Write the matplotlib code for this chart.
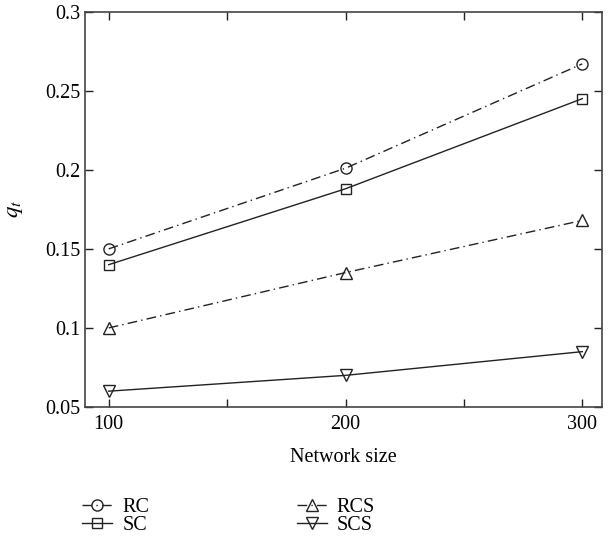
import matplotlib
matplotlib.use("Agg")
import matplotlib.pyplot as plt
from matplotlib.ticker import MultipleLocator

sizes = [100, 200, 300]
rc = [0.150, 0.201, 0.267]
sc = [0.140, 0.188, 0.245]
rcs = [0.100, 0.135, 0.168]
scs = [0.060, 0.070, 0.085]

plt.rcParams['font.family'] = ['Liberation Serif', 'DejaVu Serif']
plt.rcParams['mathtext.fontset'] = 'stix'
fs = 14.5

fig = plt.figure(figsize=(6.13, 5.46), dpi=100)
ax = fig.add_axes([0.1387, 0.2546, 0.9820 - 0.1387, 0.9786 - 0.2546])

c = '#222222'
dashdot = (0, (7, 3, 1, 3))
mk = dict(markersize=8, markerfacecolor='none', markeredgecolor=c, markeredgewidth=1.0, color=c, linewidth=1.0)
ax.plot(sizes, rc, linestyle=dashdot, marker='o', label='RC', **mk)
ax.plot(sizes, sc, linestyle='-', marker='s', label='SC', **{**mk, 'markersize': 7})
ax.plot(sizes, rcs, linestyle=dashdot, marker='^', label='RCS', **mk)
ax.plot(sizes, scs, linestyle='-', marker='v', label='SCS', **mk)

ax.set_xlim(90, 308.3)
ax.set_ylim(0.05, 0.3)
ax.set_xticks([100, 200, 300])
ax.xaxis.set_minor_locator(MultipleLocator(50))
ax.set_yticks([0.05, 0.1, 0.15, 0.2, 0.25, 0.3])
ax.set_yticklabels(['0.05', '0.1', '0.15', '0.2', '0.25', '0.3'])
ax.tick_params(which='both', direction='in', top=True, right=True, labelsize=fs, color=c, width=1.0)
ax.tick_params(which='major', length=6)
ax.tick_params(which='minor', length=6)
ax.tick_params(axis='x', which='major', pad=6)
for s in ax.spines.values():
    s.set_color('#444444')
    s.set_linewidth(1.2)

ax.set_xlabel('Network size', fontsize=fs, labelpad=10)
ax.set_ylabel(r'$q_t$', fontsize=fs + 2, labelpad=14)

leg = ax.legend(loc='upper left', bbox_to_anchor=(-0.021, -0.2105), ncol=2, frameon=False,
                fontsize=fs, handlelength=1.5, handletextpad=0.5, columnspacing=7.3,
                labelspacing=-0.05, borderaxespad=0)

fig.savefig('out.png', dpi=100)
